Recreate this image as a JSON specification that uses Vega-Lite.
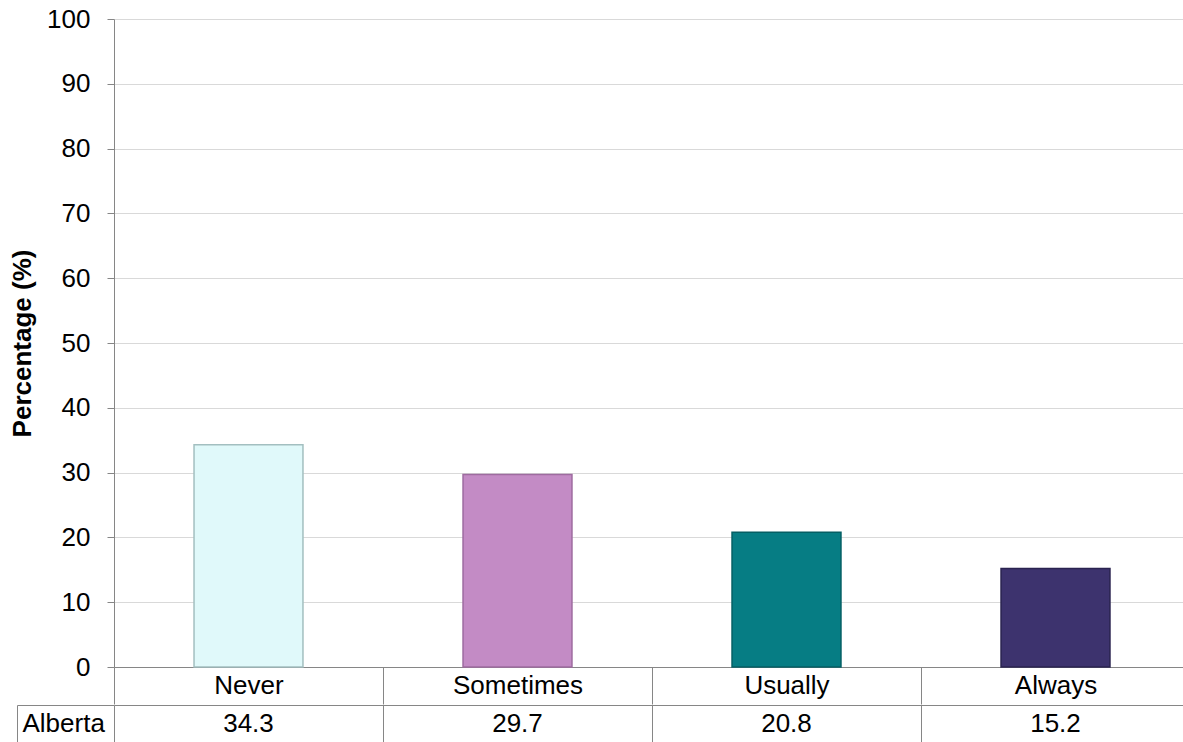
{
  "$schema": "https://vega.github.io/schema/vega-lite/v6.json",
  "padding": {"left": 9, "top": 6, "right": 0, "bottom": 0},
  "background": "white",
  "spacing": -13,
  "config": {
    "font": "Liberation Sans",
    "view": {"stroke": null},
    "axis": {"labelFont": "Liberation Sans", "titleFont": "Liberation Sans"}
  },
  "data": {
    "values": [
      {"cat": "Never", "pct": 34.3, "row": "Alberta"},
      {"cat": "Sometimes", "pct": 29.7, "row": "Alberta"},
      {"cat": "Usually", "pct": 20.8, "row": "Alberta"},
      {"cat": "Always", "pct": 15.2, "row": "Alberta"}
    ]
  },
  "vconcat": [
    {
      "width": 1076,
      "height": 648,
      "mark": {"type": "bar", "width": {"band": 0.405}, "strokeWidth": 1.5},
      "encoding": {
        "x": {
          "field": "cat", "type": "nominal",
          "sort": ["Never", "Sometimes", "Usually", "Always"],
          "scale": {"paddingInner": 0, "paddingOuter": 0},
          "axis": {
            "title": null, "tickBand": "extent", "tickSize": 37, "tickColor": "#868686",
            "domainColor": "#868686", "labelFontSize": 26, "labelColor": "#000000",
            "labelAngle": 0, "labelBaseline": "middle", "labelPadding": -19, "grid": false
          }
        },
        "y": {
          "field": "pct", "type": "quantitative",
          "scale": {"domain": [0, 100]},
          "axis": {
            "title": "Percentage (%)", "titleFontSize": 26, "titleFontWeight": "bold",
            "titleColor": "#000000", "values": [0, 10, 20, 30, 40, 50, 60, 70, 80, 90, 100],
            "labelFontSize": 26, "labelColor": "#000000", "tickSize": 7, "tickColor": "#868686",
            "domainColor": "#868686", "gridColor": "#D9D9D9", "labelPadding": 17, "titlePadding": 11
          }
        },
        "color": {
          "field": "cat", "type": "nominal", "legend": null,
          "scale": {"domain": ["Never", "Sometimes", "Usually", "Always"],
                    "range": ["#E0F9FA", "#C38BC5", "#067D84", "#3D336E"]}
        },
        "stroke": {
          "field": "cat", "type": "nominal", "legend": null,
          "scale": {"domain": ["Never", "Sometimes", "Usually", "Always"],
                    "range": ["#A3BFC0", "#9E6BA0", "#045F64", "#2A2350"]}
        }
      }
    },
    {
      "width": 1076,
      "height": 37,
      "layer": [
        {
          "mark": {"type": "text", "fontSize": 26, "color": "#000000"},
          "encoding": {
            "x": {
              "field": "cat", "type": "nominal",
              "sort": ["Never", "Sometimes", "Usually", "Always"],
              "scale": {"paddingInner": 0, "paddingOuter": 0},
              "axis": {"title": null, "labels": false, "ticks": false, "domain": false,
                       "grid": true, "tickBand": "extent", "gridColor": "#868686", "gridOpacity": 1}
            },
            "y": {
              "field": "row", "type": "nominal",
              "axis": {"title": null, "orient": "left", "tickBand": "extent", "grid": true, "gridColor": "#868686",
                       "gridOpacity": 1, "tickSize": 97, "tickColor": "#868686", "labelAlign": "left",
                       "labelPadding": -5, "labelFontSize": 26, "labelColor": "#000000", "domain": false}
            },
            "text": {"field": "pct", "type": "quantitative", "format": ".1f"}
          }
        },
        {
          "mark": {"type": "text", "text": ""},
          "encoding": {
            "y": {
              "field": "row", "type": "nominal",
              "axis": {"title": null, "orient": "left", "offset": 97, "labels": false, "ticks": false,
                       "domain": true, "domainColor": "#868686", "grid": false}
            }
          }
        }
      ],
      "resolve": {"axis": {"y": "independent"}}
    }
  ]
}
